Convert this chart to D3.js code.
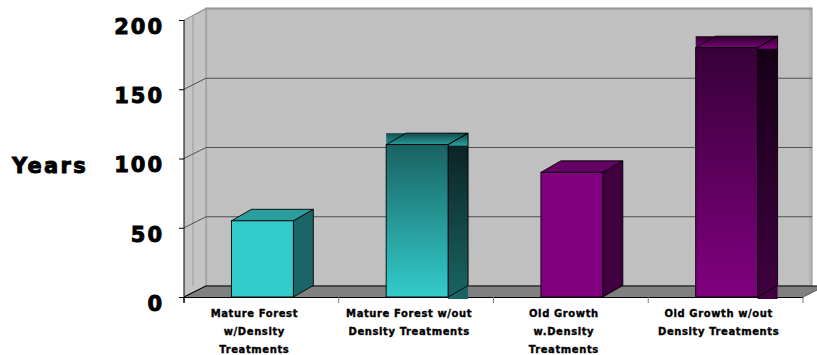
<!DOCTYPE html>
<html><head><meta charset="utf-8">
<script src="https://cdn.jsdelivr.net/npm/d3@7/dist/d3.min.js"></script>
<style>html,body{margin:0;padding:0;background:#fff}svg{display:block}</style>
</head><body>
<svg id="c" width="817" height="355"></svg>
<script>
// ---- data ----
const categories = ["Mature Forest w/Density Treatments","Mature Forest w/out Density Treatments","Old Growth w.Density Treatments","Old Growth w/out Density Treatments"];
const categoryLines = [["Mature Forest","w/Density","Treatments"],["Mature Forest w/out","Density Treatments"],["Old Growth","w.Density","Treatments"],["Old Growth w/out","Density Treatments"]];
const values = [55, 110, 90, 180];
const yTicks = [0, 50, 100, 150, 200];
const yTitle = "Years";

// ---- styles ----
const barStyles = [
  {front:"#33cccc", side:"#1a6666", top:"#2a9e9e", grad:false},
  {front:["#1a6262","#33cccc"], side:["#0a1e1e","#1a6666"], top:["#124c4c","#2a9e9e"], grad:true},
  {front:"#800080", side:"#400040", top:"#660066", grad:false},
  {front:["#380038","#800080"], side:["#140014","#400040"], top:["#2a002a","#800080"], grad:true}
];
const D = {dx:22, dy:-11};     // wall depth
const B = {dx:20, dy:-11.5};   // bar depth

const svg = d3.select("#c");
const y = d3.scaleLinear().domain([0,200]).range([297,20]);
const x = d3.scaleBand().domain(categories).range([184,803]);
const bw = x.bandwidth();
const xL = 184, xR = 803, y0 = y(0);

// gradients
const defs = svg.append("defs");
barStyles.forEach((s,i)=>{
  if(!s.grad) return;
  ["front","side","top"].forEach(k=>{
    const g = defs.append("linearGradient").attr("id",`g${i}${k}`).attr("x1",0).attr("y1",0).attr("x2",0).attr("y2",1);
    g.append("stop").attr("offset","0%").attr("stop-color",s[k][0]);
    g.append("stop").attr("offset","100%").attr("stop-color",s[k][1]);
  });
});

const poly = pts => "M"+pts.map(p=>p.join(",")).join("L")+"Z";

// back wall
const wallTop = y(200)+D.dy, wallBot = y0+D.dy;
svg.append("rect").attr("x",xL+D.dx).attr("y",wallTop-1).attr("width",812-(xL+D.dx)).attr("height",wallBot-wallTop+1)
  .attr("fill","#c0c0c0").attr("stroke","#8c8c8c").attr("stroke-width",1);
svg.append("line").attr("x1",810).attr("x2",810).attr("y1",wallTop+1).attr("y2",wallBot).attr("stroke","#a8a8a8");
// left side wall
svg.append("path").attr("d",poly([[xL,y(200)],[xL+D.dx,wallTop],[xL+D.dx,wallBot],[xL,y0]]))
  .attr("fill","#c4c4c4").attr("stroke","none");
svg.append("line").attr("x1",193).attr("x2",193).attr("y1",y(200)-4.5).attr("y2",wallBot).attr("stroke","#9a9a9a");
svg.append("line").attr("x1",xL+D.dx).attr("x2",xL+D.dx).attr("y1",wallTop).attr("y2",wallBot).attr("stroke","#999");
svg.append("line").attr("x1",193).attr("x2",xL+D.dx).attr("y1",y(200)-4.5).attr("y2",wallTop-1).attr("stroke","#aaa");

// gridlines
yTicks.forEach(t=>{
  const yy = y(t);
  const c = t===200 ? "#8c8c8c" : "#505050";
  svg.append("line").attr("x1",xL).attr("y1",yy).attr("x2",xL+D.dx).attr("y2",yy+D.dy).attr("stroke",t===0?"#000":c);
  if(t>0) svg.append("line").attr("x1",xL+D.dx).attr("y1",yy+D.dy).attr("x2",812).attr("y2",yy+D.dy).attr("stroke",c);
});

// floor
svg.append("path").attr("d",poly([[xL,y0],[xR,y0],[xR+D.dx,y0+D.dy],[xL+D.dx,y0+D.dy]])).attr("fill","#808080");
svg.append("line").attr("x1",xL+D.dx).attr("x2",830).attr("y1",y0+D.dy).attr("y2",y0+D.dy).attr("stroke","#000");
svg.append("line").attr("x1",xL).attr("x2",xL+D.dx).attr("y1",y0).attr("y2",y0+D.dy).attr("stroke","#000");
svg.append("line").attr("x1",xL).attr("x2",xR).attr("y1",y0+0.5).attr("y2",y0+0.5).attr("stroke","#000");
svg.append("line").attr("x1",xR).attr("x2",xR+D.dx).attr("y1",y0).attr("y2",y0+D.dy).attr("stroke","#555");

// bars
categories.forEach((c,i)=>{
  const s = barStyles[i];
  const w = bw*0.4, bx = x(c)+bw*0.3+1, bt = y(values[i]);
  const fill = k => s.grad ? `url(#g${i}${k})` : s[k];
  const g = svg.append("g");
  const topPts = [[bx,bt],[bx+w,bt],[bx+w+B.dx,bt+B.dy],[bx+B.dx,bt+B.dy]];
  const sidePts = [[bx+w,bt],[bx+w+B.dx,bt+B.dy],[bx+w+B.dx,y0+B.dy],[bx+w,y0]];
  if(s.grad){
    g.append("rect").attr("x",bx+w).attr("y",bt+B.dy).attr("width",B.dx).attr("height",y0+2-(bt+B.dy)).attr("fill",fill("side"));
    g.append("rect").attr("x",bx).attr("y",bt+B.dy).attr("width",w+B.dx).attr("height",-B.dy+1).attr("fill",fill("top"));
    g.append("path").attr("d",poly(topPts)).attr("fill","none").attr("stroke","#000").attr("stroke-width",0.9);
    g.append("path").attr("d",poly(sidePts)).attr("fill","none").attr("stroke","#000").attr("stroke-width",0.9);
  } else {
    g.append("path").attr("d",poly(sidePts)).attr("fill",fill("side")).attr("stroke","#000").attr("stroke-width",0.9);
    g.append("path").attr("d",poly(topPts)).attr("fill",fill("top")).attr("stroke","#000").attr("stroke-width",0.9);
  }
  g.append("rect").attr("x",bx).attr("y",bt).attr("width",w).attr("height",y0-bt).attr("fill",fill("front")).attr("stroke","#000").attr("stroke-width",0.9);
});

// y axis
svg.append("line").attr("x1",xL).attr("x2",xL).attr("y1",y(200)).attr("y2",y0+6).attr("stroke","#000");
const yAxis = d3.axisLeft(y).tickValues(yTicks).tickSize(5).tickPadding(0).tickFormat(d3.format("d"));
const ya = svg.append("g").attr("transform",`translate(${xL},0)`).call(yAxis);
ya.select(".domain").remove();
ya.selectAll(".tick line").attr("stroke","#000");
ya.selectAll(".tick text").attr("x",-20).attr("dy","0.95em").attr("y",-6.5)
  .style("font-family","'DejaVu Sans'").style("font-weight","bold").style("font-size","21px").style("letter-spacing","2px")
  .attr("fill","#000").attr("stroke","#000").attr("stroke-width",0.9);

svg.append("text").attr("x",12).attr("y",173).text(yTitle)
  .style("font-family","'DejaVu Sans'").style("font-weight","bold").style("font-size","21px").style("letter-spacing","2.3px")
  .attr("stroke","#000").attr("stroke-width",0.9);

// x category ticks
const xt = [xL].concat(categories.map(c=>x(c)+bw));
xt.forEach(v=>svg.append("line").attr("x1",v).attr("x2",v).attr("y1",y0).attr("y2",y0+6).attr("stroke",v===xL?"#000":"#777"));

// category labels
categories.forEach((c,i)=>{
  const cx = x(c)+bw/2-7;
  const t = svg.append("text").attr("text-anchor","middle")
    .style("font-family","'DejaVu Sans'").style("font-weight","bold").style("font-size","10px").style("letter-spacing","0.6px")
    .attr("stroke","#000").attr("stroke-width",0.35);
  categoryLines[i].forEach((ln,j)=>t.append("tspan").attr("x",cx).attr("y",317+j*18).text(ln));
});
</script>
</body></html>
